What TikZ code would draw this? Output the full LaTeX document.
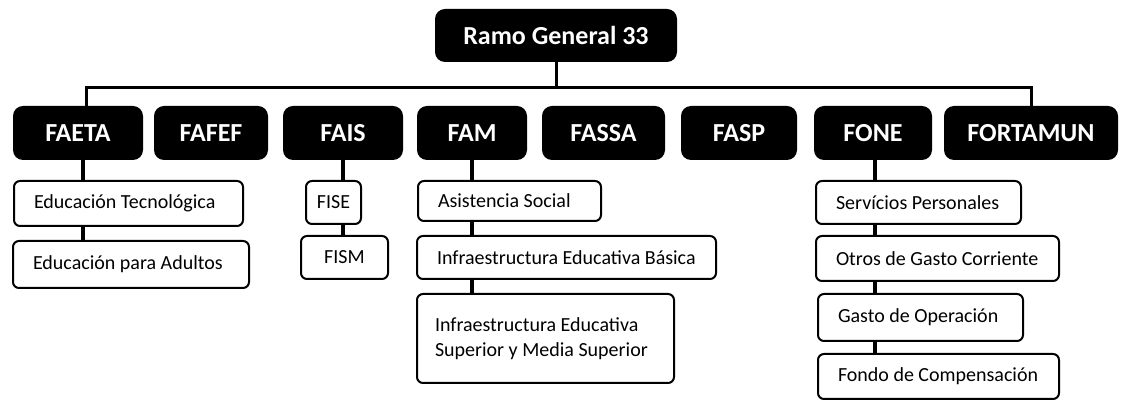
\documentclass[tikz,border=0pt]{standalone}
\usepackage{fontspec}
\setmainfont{Carlito}
\usetikzlibrary{backgrounds}

\begin{document}
\begin{tikzpicture}[x=0.5pt,y=-0.5pt,
    head/.style={rectangle, rounded corners=5pt, fill=black, text=white,
        font=\fontsize{13}{15}\selectfont\bfseries, minimum height=27pt, inner sep=0pt},
    item/.style={draw, rounded corners=3pt, line width=1pt, fill=white,
        font=\fontsize{10}{12.5}\selectfont, anchor=north west, align=flush left,
        inner xsep=10pt, inner ysep=0pt},
    short/.style={item, align=center, inner xsep=0pt},
    link/.style={line width=2pt},
    bus/.style={line width=1.5pt}]
    \useasboundingbox (0,0) rectangle (1121,400);

    % Root
    \node[head, minimum width=121pt, minimum height=26.5pt] (root) at (556,35.5) {Ramo General 33};

    % Funds
    \foreach \name/\lbl/\cx/\w in {faeta/FAETA/78/65, fafef/FAFEF/211/57, fais/FAIS/343/60,
        fam/FAM/472/55, fassa/FASSA/603.5/61.5, fasp/FASP/739/58, fone/FONE/873/59,
        fortamun/FORTAMUN/1031/87}
        \node[head, minimum width=\w pt] (\name) at (\cx,133) {\lbl};

    % FAETA
    \node[item, text width=94.5pt, minimum height=22.5pt] (edtec) at (13,180) {Educación Tecnológica};
    \node[item, text width=98pt, minimum height=23.5pt] (edadul) at (12,240) {Educación para Adultos};

    % FAIS
    \node[short, minimum width=27.5pt, minimum height=21.5pt] (fise) at (305,180) {FISE};
    \node[short, minimum width=43.5pt, minimum height=21.5pt] (fism) at (300,235) {FISM};

    % FAM
    \node[item, text width=71.5pt, minimum height=20pt] (asist) at (417,180) {Asistencia Social};
    \node[item, text width=129.5pt, minimum height=21.5pt] (infbas) at (416,235) {Infraestructura Educativa Básica};
    \node[item, inner xsep=9pt, text width=110.5pt, minimum height=44.5pt] (infsup) at (416,293)
        {Infraestructura Educativa\\Superior y Media Superior};

    % FONE
    \node[item, text width=82.5pt, minimum height=21.5pt] (serv) at (815,180) {Servícios Personales};
    \node[item, text width=101.5pt, minimum height=22.5pt] (otros) at (815,235) {Otros de Gasto Corriente};
    \node[item, text width=82.5pt, minimum height=23.5pt] (gasto) at (817,293) {Gasto de Operación};
    \node[item, text width=100.5pt, minimum height=22.5pt] (fondo) at (817,353) {Fondo de Compensación};

    % Connectors
    \coordinate (bus) at (556,88);
    \draw[bus] (root.south) -- (bus);
    \draw[bus] ([xshift=4pt]faeta.north) |- (bus) -| (fortamun.north);
    \begin{scope}[on background layer]
        \draw[link] ([xshift=2.5pt]faeta.south) -- ([xshift=2.5pt]faeta.south |- edadul.north);
        \draw[link] (fais.south) -- (fais.south |- fism.north);
        \draw[link] (fam.south) -- (fam.south |- infsup.north);
        \draw[link] ([xshift=1pt]fone.south) -- ([xshift=1pt]fone.south |- fondo.north);
    \end{scope}
\end{tikzpicture}
\end{document}
